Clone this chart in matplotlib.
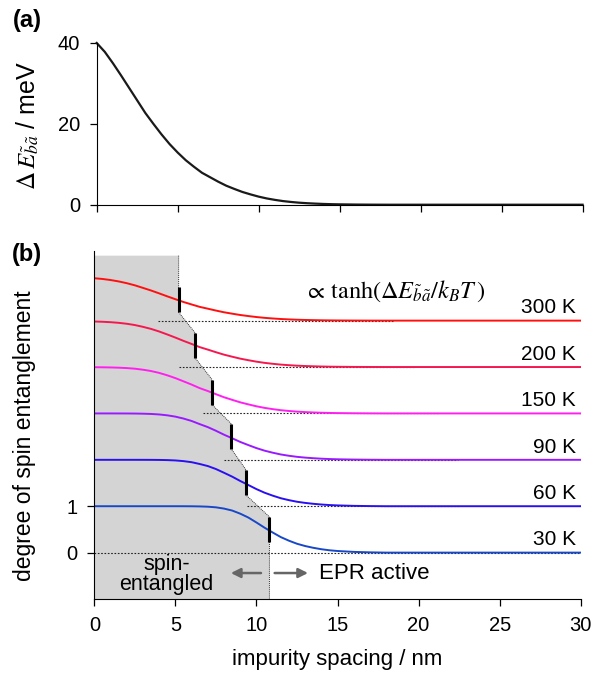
import numpy as np
import matplotlib
matplotlib.use("Agg")
import matplotlib.pyplot as plt

plt.rcParams['font.family'] = ['Liberation Sans', 'DejaVu Sans']
plt.rcParams['mathtext.fontset'] = 'stix'
plt.rcParams['font.size'] = 14

# energy splitting
spacing = [0, 0.5, 1, 1.5, 2, 2.5, 3, 3.5, 4, 4.5, 5, 5.5, 6, 6.5, 7, 7.5, 8, 8.5,
           9, 9.5, 10, 10.5, 11, 11.5, 12, 12.5, 13, 13.5, 14, 14.5, 15, 16, 17, 18, 30]
dE = [40.0, 37.8, 35.0, 32.0, 28.9, 25.8, 22.7, 20.0, 17.4, 15.0, 12.9, 11.0, 9.4, 7.9,
      6.8, 5.7, 4.7, 3.9, 3.15, 2.55, 2.0, 1.55, 1.2, 0.9, 0.68, 0.5, 0.37, 0.27, 0.19,
      0.13, 0.09, 0.04, 0.015, 0.0, 0.0]

temps = [300, 200, 150, 90, 60, 30]
temp_labels = ['300 K', '200 K', '150 K', '90 K', '60 K', '30 K']
offsets = [5, 4, 3, 2, 1, 0]
colors = ['#ff1010', '#f5184f', '#ff20f0', '#9a1aff', '#2a10f0', '#1848c8']
# half-entanglement markers (x position and level)
bar_x = [5.2, 6.23, 7.26, 8.46, 9.36, 10.8]
bar_mid = [5.45, 4.46, 3.46, 2.5, 1.51, 0.5]
# extent of the dotted baselines
base_start = [3.9, 5.25, 6.7, 8.0, 9.4, 0.0]
base_end = [18.4, 19.7, 21.2, 22.4, 22.5, 30.0]

kB = 0.08617  # meV/K

fig = plt.figure(figsize=(5.94, 6.79), dpi=100)
axa = fig.add_axes([0.1628, 0.6985, 0.818, 0.2382])
axb = fig.add_axes([0.1588, 0.1178, 0.8189, 0.5125])

# ---- panel (a)
axa.plot(spacing, dE, color='#1a1a1a', lw=1.6, clip_on=False)
axa.set_xlim(0, 30)
axa.set_ylim(0, 40)
axa.set_yticks([0, 20, 40])
axa.set_xticks(np.arange(0, 31, 5))
axa.set_xticklabels([])

# ---- panel (b)
x = np.array(spacing)
E = np.array(dE)
half = 0.27
poly_x = [0, 0, bar_x[0]]
poly_y = [-1, 6.4, 6.4]
for bx, bm in zip(bar_x, bar_mid):
    poly_x += [bx, bx]
    poly_y += [bm + half, bm - half]
poly_x += [bar_x[-1]]
poly_y += [-1]
axb.fill(poly_x, poly_y, color='#d4d4d4', lw=0, zorder=0)
axb.plot(poly_x[2:], poly_y[2:], color='#333333', lw=0.7, ls=(0, (1, 1)), zorder=1)

for i in range(len(temps)):
    axb.plot([base_start[i], base_end[i]], [offsets[i], offsets[i]],
             color='#222222', lw=0.8, ls=(0, (1.5, 1.5)), zorder=1)
    y = offsets[i] + np.tanh(E / (kB * temps[i]))
    axb.plot(x, y, color=colors[i], lw=1.4, zorder=2)
    axb.text(29.7, offsets[i] + 0.07, temp_labels[i], ha='right', va='bottom', fontsize=15)
    axb.plot([bar_x[i], bar_x[i]], [bar_mid[i] - half, bar_mid[i] + half],
             color='black', lw=2.2, solid_capstyle='butt', zorder=3)

axb.text(18.5, 5.63, r'$\propto\,\mathrm{tanh}(\Delta E_{\tilde{b}\tilde{a}}/k_B T\,)$',
         ha='center', va='center', fontsize=17.5)

axb.text(4.45, -0.47, 'spin-\nentangled', ha='center', va='center',
         linespacing=0.9, fontsize=15.5)
axb.annotate('', xy=(8.25, -0.44), xytext=(10.45, -0.44),
             arrowprops=dict(arrowstyle='-|>', color='#666666', lw=1.8, mutation_scale=14))
axb.annotate('', xy=(13.35, -0.44), xytext=(10.95, -0.44),
             arrowprops=dict(arrowstyle='-|>', color='#666666', lw=1.8, mutation_scale=14))
axb.text(13.85, -0.44, 'EPR active', ha='left', va='center', fontsize=16)

axb.set_xlim(0, 30)
axb.set_ylim(-1, 6.5)
axb.set_xticks(np.arange(0, 31, 5))
axb.set_yticks([0, 1])
axb.set_xlabel('impurity spacing / nm', fontsize=16, labelpad=10)

for ax in (axa, axb):
    ax.spines['top'].set_visible(False)
    ax.spines['right'].set_visible(False)
    ax.tick_params(direction='out', length=5, width=0.9, pad=7, labelsize=14.5)

fig.text(28 / 594, 1 - 125 / 679, r'$\Delta\,E_{\tilde{b}\tilde{a}}$ / meV', rotation=90,
         ha='center', va='center', fontsize=18)
fig.text(25 / 594, 1 - 436 / 679, 'degree of spin entanglement', rotation=90,
         ha='center', va='center', fontsize=16.5)
fig.text(27 / 594, 1 - 20 / 679, '(a)', ha='center', va='center', fontsize=17, weight='bold')
fig.text(27 / 594, 1 - 255 / 679, '(b)', ha='center', va='center', fontsize=17, weight='bold')

fig.savefig('out.png', dpi=100)
